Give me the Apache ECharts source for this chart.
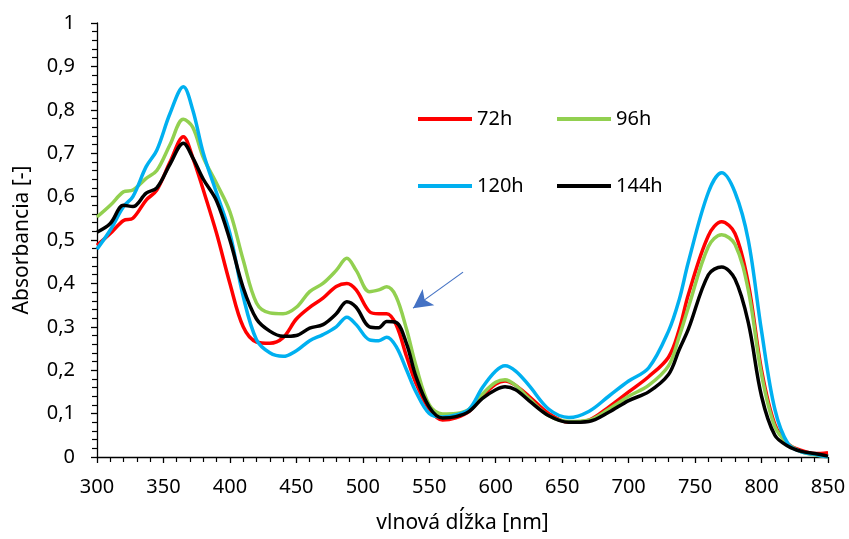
<!DOCTYPE html>
<html>
<head>
<meta charset="utf-8">
<script src="https://cdn.jsdelivr.net/npm/echarts@6/dist/echarts.min.js"></script>
<style>html,body{margin:0;padding:0;background:#fff}#c{width:849px;height:539px}</style>
</head>
<body>
<div id="c"></div>
<script>
const wavelengths = [300,310,320,327,337,345,355,365,372,380,390,400,410,420,430,440,450,460,470,480,488,495,505,512,518,525,533,540,550,560,570,580,590,600,607,615,625,640,655,670,685,700,715,730,738,745,760,770,780,790,800,810,820,830,840,850];

const s72h = [0.488,0.515,0.545,0.55,0.592,0.615,0.68,0.738,0.69,0.615,0.515,0.40,0.30,0.265,0.262,0.275,0.318,0.345,0.366,0.393,0.40,0.385,0.335,0.33,0.33,0.305,0.231,0.17,0.11,0.085,0.09,0.105,0.14,0.168,0.175,0.165,0.14,0.10,0.08,0.085,0.115,0.15,0.185,0.23,0.293,0.375,0.51,0.542,0.515,0.40,0.20,0.075,0.03,0.015,0.008,0.01];
const s96h = [0.553,0.58,0.611,0.615,0.642,0.66,0.72,0.778,0.76,0.69,0.63,0.565,0.454,0.355,0.332,0.33,0.345,0.381,0.40,0.43,0.458,0.43,0.381,0.385,0.392,0.37,0.293,0.21,0.12,0.099,0.10,0.11,0.145,0.172,0.178,0.165,0.135,0.095,0.082,0.085,0.11,0.14,0.165,0.21,0.277,0.345,0.485,0.512,0.49,0.385,0.19,0.07,0.03,0.012,0.005,0.0];
const s120h = [0.479,0.523,0.577,0.60,0.669,0.707,0.792,0.853,0.80,0.70,0.608,0.515,0.37,0.27,0.24,0.232,0.245,0.268,0.282,0.30,0.322,0.305,0.27,0.268,0.276,0.255,0.20,0.15,0.10,0.092,0.097,0.11,0.16,0.198,0.21,0.198,0.165,0.11,0.091,0.105,0.14,0.175,0.205,0.29,0.362,0.45,0.61,0.655,0.61,0.50,0.29,0.11,0.03,0.012,0.006,0.0];
const s144h = [0.518,0.538,0.58,0.577,0.608,0.62,0.675,0.723,0.69,0.64,0.59,0.50,0.39,0.318,0.29,0.278,0.28,0.297,0.305,0.33,0.358,0.345,0.30,0.298,0.312,0.31,0.26,0.185,0.115,0.09,0.093,0.105,0.135,0.155,0.162,0.155,0.13,0.095,0.08,0.082,0.103,0.13,0.15,0.19,0.247,0.295,0.42,0.438,0.41,0.31,0.14,0.05,0.025,0.013,0.008,0.002];

const seriesNames = ['72h','96h','120h','144h'];
const seriesColors = ['#FF0000','#92D050','#00B0F0','#000000'];
const seriesValues = [s72h, s96h, s120h, s144h];

const arrowFrom = [575.4, 0.426];
const arrowTo = [537.8, 0.343];

const FONT = 'Noto Sans';
const chart = echarts.init(document.getElementById('c'), null, {renderer:'canvas'});

const series = seriesNames.map((name, i) => {
  const s = {
    name,
    type: 'line',
    data: wavelengths.map((w, k) => [w, seriesValues[i][k]]),
    showSymbol: false,
    symbol: 'none',
    smooth: 0.35,
    lineStyle: {color: seriesColors[i], width: 3.5},
    itemStyle: {color: seriesColors[i]},
    emphasis: {disabled: true},
    animation: false,
    z: 2 + i
  };
  if (i === 3) {
    s.markLine = {
      silent: true,
      symbol: ['none', 'arrow'],
      symbolSize: [15, 19],
      label: {show: false},
      lineStyle: {color: '#4472C4', width: 1.2, type: 'solid'},
      emphasis: {disabled: true},
      data: [[{coord: arrowFrom}, {coord: arrowTo}]]
    };
  }
  return s;
});

const legendPos = [[418,109],[557,109],[418,176],[557,176]];
const legends = seriesNames.map((name, i) => ({
  data: [name],
  left: legendPos[i][0],
  top: legendPos[i][1],
  padding: 0,
  icon: 'rect',
  itemWidth: 54,
  itemHeight: 4,
  itemGap: 5,
  selectedMode: false,
  itemStyle: {color: seriesColors[i], borderWidth: 0},
  textStyle: {fontFamily: FONT, fontSize: 20, color: '#000'}
}));

chart.setOption({
  backgroundColor: '#fff',
  animation: false,
  textStyle: {fontFamily: FONT},
  grid: {left: 97, right: 21, top: 23, bottom: 82, containLabel: false},
  legend: legends,
  xAxis: {
    type: 'value', min: 300, max: 850, interval: 50,
    name: 'vlnová dĺžka [nm]', nameLocation: 'middle', nameGap: 56,
    nameTextStyle: {fontFamily: FONT, fontSize: 21, color: '#000'},
    axisLine: {show: true, onZero: false, lineStyle: {color: '#000', width: 1.3}},
    axisTick: {show: true, inside: false, length: 6, lineStyle: {color: '#000', width: 1.3}},
    minorTick: {show: true, splitNumber: 5, length: 5, lineStyle: {color: '#000', width: 1.2}},
    splitLine: {show: false},
    axisLabel: {fontFamily: FONT, fontSize: 20, color: '#000', margin: 20}
  },
  yAxis: {
    type: 'value', min: 0, max: 1, interval: 0.1,
    name: 'Absorbancia [-]', nameLocation: 'middle', nameGap: 64,
    nameTextStyle: {fontFamily: FONT, fontSize: 21, color: '#000'},
    axisLine: {show: true, lineStyle: {color: '#000', width: 1.3}},
    axisTick: {show: true, inside: false, length: 6, lineStyle: {color: '#000', width: 1.3}},
    minorTick: {show: true, splitNumber: 5, length: 5, lineStyle: {color: '#000', width: 1.2}},
    splitLine: {show: false},
    axisLabel: {fontFamily: FONT, fontSize: 20, color: '#000', margin: 22,
      formatter: v => (Math.round(v * 10) / 10).toString().replace('.', ',')}
  },
  series
});
</script>
</body>
</html>
